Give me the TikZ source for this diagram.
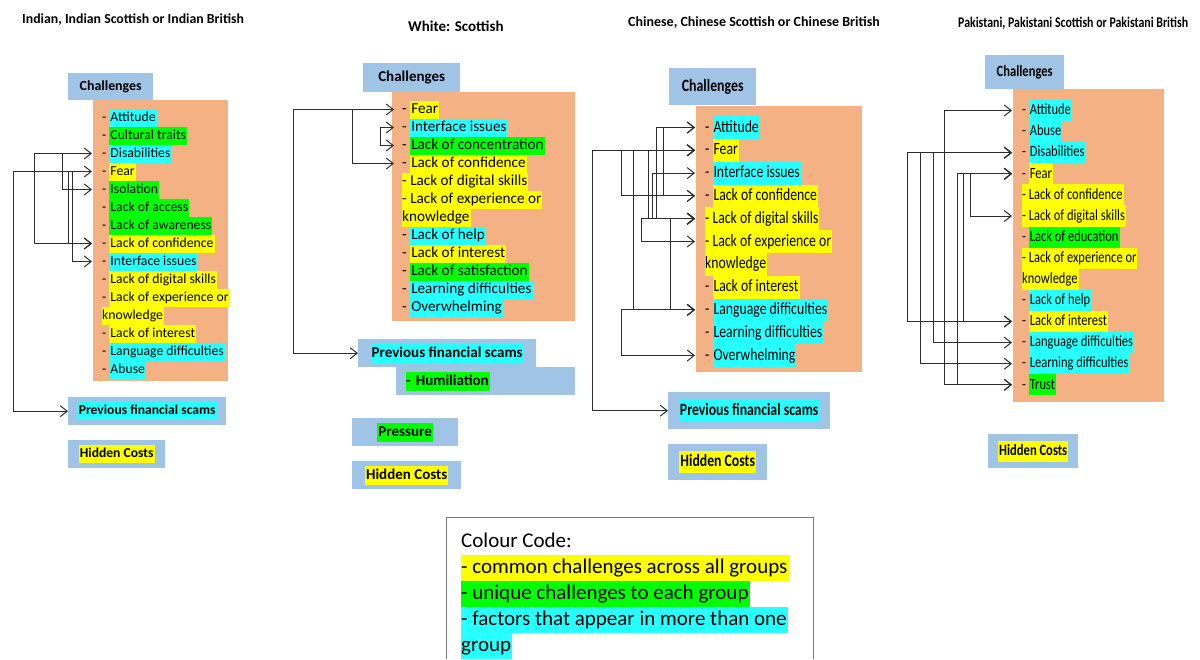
\documentclass[tikz,border=0pt]{standalone}
\usepackage{fontspec}
\setmainfont{Carlito}
\newfontfamily\narrowfont[FakeStretch=0.8]{Carlito}
\usetikzlibrary{arrows.meta}
\definecolor{hly}{RGB}{255,255,0}
\definecolor{hlg}{RGB}{0,255,0}
\definecolor{hlc}{RGB}{40,255,255}
\definecolor{boxb}{RGB}{160,196,230}
\definecolor{boxo}{RGB}{243,177,132}
\definecolor{lnk}{RGB}{45,45,45}
\definecolor{frame}{RGB}{120,120,120}
% highlighted words
\newcommand{\hlt}[2]{{\setlength{\fboxsep}{0pt}\colorbox{#1}{\strut\hspace{1pt}#2\hspace{1pt}}}}
\newcommand{\citem}[2]{- \hlt{#1}{#2}}
\newcommand{\ditem}[2]{{\setlength{\fboxsep}{0pt}\colorbox{#1}{\strut- #2\hspace{1pt}}}}
\newcommand{\kitem}[2]{{\setlength{\fboxsep}{0pt}\colorbox{#1}{\strut#2\hspace{1pt}}}}
\tikzset{
  panel/.style={fill=boxo, anchor=north west, inner sep=0},
  bbox/.style={fill=boxb, anchor=north west, inner sep=0, align=center},
  listitem/.style={anchor=west, inner sep=0, yshift=-1.5pt},
  grouptitle/.style={anchor=west, inner sep=0},
  conn/.style={draw=lnk, line width=1pt, -{Straight Barb[length=7pt,width=11pt]}, shorten >=10pt},
  dconn/.style={conn, {Straight Barb[length=7pt,width=11pt]}-{Straight Barb[length=7pt,width=11pt]}, shorten <=10pt}
}

\begin{document}
\begin{tikzpicture}[x=1pt,y=-1pt]
\useasboundingbox (0,0) rectangle (1200,659);
\fill[white] (0,0) rectangle (1200,659);

% titles
\node[grouptitle, font={\bfseries\fontsize{13.8}{16}\selectfont}] (t1) at (22,20) {Indian, Indian Scottish or Indian British};
\node[grouptitle, font={\bfseries\fontsize{15}{18}\selectfont}] (t2) at (408,26) {White: Scottish};
\node[grouptitle, font={\bfseries\fontsize{14}{17}\selectfont}] (t3) at (628,23) {Chinese, Chinese Scottish or Chinese British};
\node[grouptitle, font={\narrowfont\bfseries\fontsize{14.8}{17}\selectfont}] (t4) at (958,23) {Pakistani, Pakistani Scottish or Pakistani British};

% trunk positions
\foreach \x in {13,34,62,68,72,293,352,380,592,621,633,641,648,652,656,663,670,907,920,933,944,957,963,970}
  \coordinate (v\x) at (\x,0);

%%% Indian
\node[panel, minimum width=135, minimum height=281] (ora) at (93,100) {};
\node[bbox, minimum width=85, minimum height=27, font={\bfseries\fontsize{13.9}{18}\selectfont}] (ch1) at (68,73) {\raisebox{-1pt}{Challenges}};
\foreach [count=\i] \t in {{\citem{hlc}{Attitude}}, {\citem{hlg}{Cultural traits}}, {\citem{hlc}{Disabilities}},
  {\citem{hly}{Fear}}, {\citem{hlg}{Isolation}}, {\citem{hlg}{Lack of access}}, {\citem{hlg}{Lack of awareness}},
  {\citem{hly}{Lack of confidence}}, {\citem{hlc}{Interface issues}}, {\citem{hly}{Lack of digital skills}},
  {\citem{hly}{Lack of experience or}}, {\kitem{hly}{knowledge}}, {\citem{hly}{Lack of interest}},
  {\citem{hlc}{Language difficulties}}, {\citem{hlc}{Abuse}}}{
\node[listitem, font={\fontsize{13.7}{18}\selectfont}] (a\i) at (102,98+18*\i) {\t};
}
\node[bbox, minimum width=158, minimum height=28, font={\bfseries\fontsize{13.6}{18}\selectfont}] (pfs1) at (68,397) {\hlt{hlc}{Previous financial scams}};
\node[bbox, minimum width=97, minimum height=28, font={\bfseries\fontsize{13.6}{18}\selectfont}] (hid1) at (68,440) {\hlt{hly}{Hidden Costs}};

\draw[dconn] (a3.west) -| (v34 |- a8.west) -- (a8.west);
\draw[conn] (v62 |- a3.west) |- (a5.west);
\draw[dconn, shorten >=0pt] (a4.west) -| (v13 |- pfs1.west) -- (pfs1.west);
\draw[conn] (v68 |- a4.west) |- (a8.west);
\draw[conn] (v72 |- a4.west) |- (a9.west);

%%% White
\node[panel, minimum width=183, minimum height=229] (orb) at (392,92) {};
\node[bbox, minimum width=97, minimum height=29, font={\bfseries\fontsize{15}{19}\selectfont}] (ch2) at (363,63) {\raisebox{-1pt}{Challenges}};
\foreach [count=\i] \t in {{\citem{hly}{Fear}}, {\citem{hlc}{Interface issues}}, {\citem{hlg}{Lack of concentration}},
  {\citem{hly}{Lack of confidence}}, {\ditem{hly}{Lack of digital skills}}, {\ditem{hly}{Lack of experience or}},
  {\kitem{hly}{knowledge}}, {\citem{hlc}{Lack of help}}, {\citem{hly}{Lack of interest}},
  {\citem{hlg}{Lack of satisfaction}}, {\citem{hlc}{Learning difficulties}}, {\citem{hlc}{Overwhelming}}}{
\node[listitem, font={\fontsize{15.2}{18}\selectfont}] (b\i) at (402,90+18*\i) {\t};
}
\node[bbox, minimum width=178, minimum height=28, font={\bfseries\fontsize{15}{19}\selectfont}] (pfs2) at (358,339) {\hlt{hlc}{Previous financial scams}};
\node[bbox, minimum width=179, minimum height=28, text width=159pt, align=left, font={\bfseries\fontsize{15}{19}\selectfont}] (hum2) at (396,367) {\kitem{hlg}{- Humiliation}};
\node[bbox, minimum width=106, minimum height=28, font={\bfseries\fontsize{15}{19}\selectfont}] (pre2) at (352,418) {\hlt{hlg}{Pressure}};
\node[bbox, minimum width=109, minimum height=28, font={\bfseries\fontsize{15}{19}\selectfont}] (hid2) at (352,461) {\hlt{hly}{Hidden Costs}};

\draw[dconn, shorten <=8pt, shorten >=0pt] (b1.west) -| (v293 |- pfs2.west) -- (pfs2.west);
\draw[conn, shorten >=8pt] (v352 |- b1.west) |- (b4.west);
\draw[dconn, shorten <=8pt, shorten >=8pt] (b2.west) -| (v380 |- b3.west) -- (b3.west);

%%% Chinese
\node[panel, minimum width=166, minimum height=266] (orc) at (696,106) {};
\node[bbox, minimum width=87, minimum height=37, font={\narrowfont\bfseries\fontsize{17.3}{22}\selectfont}] (ch3) at (669,68) {\raisebox{-1pt}{Challenges}};
\foreach [count=\i] \t in {{\citem{hlc}{Attitude}}, {\citem{hly}{Fear}}, {\citem{hlc}{Interface issues}},
  {\citem{hly}{Lack of confidence}}, {\ditem{hly}{Lack of digital skills}}, {\ditem{hly}{Lack of experience or}},
  {\kitem{hly}{knowledge}}, {\citem{hly}{Lack of interest}}, {\citem{hlc}{Language difficulties}},
  {\citem{hlc}{Learning difficulties}}, {\citem{hlc}{Overwhelming}}}{
\node[listitem, font={\narrowfont\fontsize{17.2}{22.8}\selectfont}] (c\i) at (705,103.2+22.8*\i) {\t};
}
\node[bbox, minimum width=162, minimum height=37, font={\narrowfont\bfseries\fontsize{17.2}{22}\selectfont}] (pfs3) at (668,392) {\hlt{hlc}{Previous financial scams}};
\node[bbox, minimum width=99, minimum height=36, font={\narrowfont\bfseries\fontsize{17.2}{22}\selectfont}] (hid3) at (668,444) {\hlt{hly}{Hidden Costs}};

\draw[dconn, shorten >=0pt] (c2.west) -| (v592 |- pfs3.west) -- (pfs3.west);
\draw[dconn] (c2.west) -| (v621 |- c4.west) -- (c4.west);
\draw[dconn] (c2.west) -| (v633 |- c9.west) -- (c9.west);
\draw[dconn] (c2.west) -| (v648 |- c5.west) -- (c5.west);
\draw[dconn] (c3.west) -| (v652 |- c5.west) -- (c5.west);
\draw[dconn] (c1.west) -| (v656 |- c5.west) -- (c5.west);
\draw[dconn] (c1.west) -| (v663 |- c4.west) -- (c4.west);
\draw[dconn] (c5.west) -| (v641 |- c6.west) -- (c6.west);
\draw[dconn] (c5.west) -| (v670 |- c9.west) -- (c9.west);
\draw[dconn] (c9.west) -| (v621 |- c11.west) -- (c11.west);

%%% Pakistani
\node[panel, minimum width=151, minimum height=313] (ord) at (1013,89) {};
\node[bbox, minimum width=79, minimum height=34, font={\narrowfont\bfseries\fontsize{15.7}{20}\selectfont}] (ch4) at (985,55) {\raisebox{-1pt}{Challenges}};
\foreach [count=\i] \t in {{\citem{hlc}{Attitude}}, {\citem{hlc}{Abuse}}, {\citem{hlc}{Disabilities}},
  {\citem{hly}{Fear}}, {\ditem{hly}{Lack of confidence}}, {\ditem{hly}{Lack of digital skills}},
  {\citem{hlg}{Lack of education}}, {\ditem{hly}{Lack of experience or}}, {\kitem{hly}{knowledge}},
  {\citem{hlc}{Lack of help}}, {\citem{hly}{Lack of interest}}, {\citem{hlc}{Language difficulties}},
  {\citem{hlc}{Learning difficulties}}, {\citem{hlg}{Trust}}}{
\node[listitem, font={\narrowfont\fontsize{15.6}{21.1}\selectfont}] (d\i) at (1022,87.9+21.1*\i) {\t};
}
\node[bbox, minimum width=90, minimum height=34, font={\narrowfont\bfseries\fontsize{15.7}{21}\selectfont}] (hid4) at (988,434) {\hlt{hly}{Hidden Costs}};

\draw[dconn] (d1.west) -| (v944 |- d14.west) -- (d14.west);
\draw[dconn] (d3.west) -| (v907 |- d11.west) -- (d11.west);
\draw[dconn] (d3.west) -| (v920 |- d13.west) -- (d13.west);
\draw[dconn] (d3.west) -| (v933 |- d12.west) -- (d12.west);
\draw[dconn] (d4.west) -| (v970 |- d6.west) -- (d6.west);
\draw[dconn] (d4.west) -| (v957 |- d14.west) -- (d14.west);
\draw[dconn] (d4.west) -| (v963 |- d11.west) -- (d11.west);

%%% colour code
\draw[frame, line width=0.8pt] (446,659) |- (813,517) -- (813,659);
\node[anchor=north west, inner sep=0, align=left, font={\fontsize{21}{26}\selectfont}] (key) at (461,529)
  {\strut Colour Code:\\ \kitem{hly}{- common challenges across all groups}\\ \kitem{hlg}{- unique challenges to each group}\\
   \kitem{hlc}{- factors that appear in more than one}\\ \kitem{hlc}{group}};
\end{tikzpicture}
\end{document}
